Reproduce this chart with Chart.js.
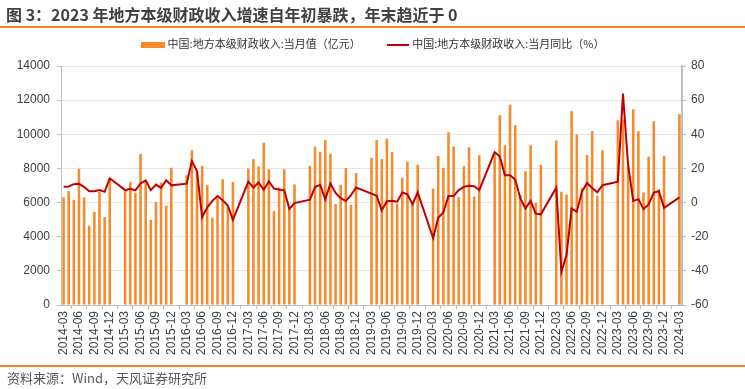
<!DOCTYPE html>
<html>
<head>
<meta charset="utf-8">
<script src="https://cdn.jsdelivr.net/npm/chart.js@4.4.1/dist/chart.umd.min.js"></script>
<style>
  html, body { margin: 0; padding: 0; background: #fff; }
  #wrap { position: relative; width: 745px; height: 389px; overflow: hidden; font-family: "Noto Sans CJK SC", sans-serif; }
  #chart { position: absolute; left: 0; top: 0; }
  #title { position: absolute; left: 6px; top: 2px; font-size: 16px; font-weight: bold; color: #404040; white-space: nowrap; }
  .rule { position: absolute; left: 0; width: 745px; height: 2px; background: #F0852D; }
  #legend { position: absolute; left: 0; top: 35px; width: 745px; text-align: center; font-size: 11px; color: #333; white-space: nowrap; }
  #legend span.item { display: inline-block; margin: 0 12px; }
  #legend i { display: inline-block; vertical-align: middle; margin-right: 3px; }
  #source { position: absolute; left: 7px; top: 368px; font-size: 13px; color: #595959; white-space: nowrap; }
</style>
</head>
<body>
<div id="wrap">
  <canvas id="chart" width="745" height="389"></canvas>
  <div id="title">图 3：2023 年地方本级财政收入增速自年初暴跌，年末趋近于 0</div>
  <div class="rule" style="top:26px"></div>
  <div id="legend">
    <span class="item"><i style="width:24px;height:6px;background:#F58B2C"></i>中国:地方本级财政收入:当月值（亿元）</span>
    <span class="item"><i style="width:22px;height:2px;background:#C00000"></i>中国:地方本级财政收入:当月同比（%）</span>
  </div>
  <div class="rule" style="top:365px"></div>
  <div id="source">资料来源：Wind，天风证券研究所</div>
</div>
<script>
// monthly categories 2014-03 .. 2024-03 (Jan/Feb have no monthly figure)
const months = [];
for (let y = 2014; y <= 2024; y++) {
    for (let m = 1; m <= 12; m++) {
        if (y === 2014 && m < 3) continue;
        if (y === 2024 && m > 3) break;
        months.push(y + "-" + String(m).padStart(2, "0"));
    }
}

// 当月值（亿元）
const monthValue = [
    6300, 6670, 6160, 7975, 6300, 4640, 5460, 6630, 5150, 7400,                 // 2014
    null, null, 6730, 7200, 6570, 8850, 7270, 4990, 6030, 7180, 5810, 8050,     // 2015
    null, null, 7605, 9068, 7790, 8150, 7020, 5110, 6260, 7370, 5750, 7210,     // 2016
    null, null, 8000, 8546, 8117, 9500, 7960, 5504, 6880, 7960, 5620, 7064,     // 2017
    null, null, 8156, 9268, 8975, 9658, 8858, 5913, 7044, 8020, 5855, 7727,     // 2018
    null, null, 8624, 9658, 8546, 9736, 8955, 5933, 7454, 8390, 5855, 8215,     // 2019
    null, null, 6825, 8736, 8034, 10121, 9282, 6318, 8132, 9243, 6357, 8775,    // 2020
    null, null, 8820, 11115, 9360, 11740, 10530, 6470, 7840, 9360, 5987, 8210,  // 2021
    null, null, 9640, 6634, 6470, 11356, 9990, 6868, 8790, 10185, 6380, 9070,   // 2022
    null, null, 10823, 10862, 8100, 11466, 10180, 6591, 8690, 10770, 6790, 8740, // 2023
    null, null, 11174                                                           // 2024
];

// 当月同比（%）
const yoyValue = [
    9.2, 9.4, 10.8, 11, 9.2, 6.6, 6.6, 7.4, 6.3, 14.2,
    null, null, 7.3, 8.1, 7.2, 11.2, 13, 7.3, 10.5, 8.6, 13.1, 10.1,
    null, null, 11.1, 24.3, 18.5, -8.6, -2.8, 1, 3.8, 1.4, -1.7, -10.1,
    null, null, 12.3, 8.8, 11.7, 7.5, 12.5, 8.2, 7.7, 7.2, -3.7, -0.3,
    null, null, 1.7, 9.1, 10.4, 1.9, 11.1, 5.6, 2.6, 0.9, 4.3, 8.8,
    null, null, 5.2, 4, -4.5, 0.8, 1, 0.5, 5.9, 4.8, -1.1, 6,
    null, null, -20.8, -8.9, -5.8, 3.9, 3.9, 7.3, 9.2, 9.8, 9.6, 7.3,
    null, null, 29.5, 27, 16, 16, 13.5, 2.4, -3.5, 1, -6.5, -6.9,
    null, null, 8.7, -40.7, -30.8, -3.5, -5.4, 6.3, 11.5, 8.5, 6, 10.2,
    null, null, 12.2, 63.8, 22, 1, 2, -3.9, -1.1, 5.9, 6.6, -3.1,
    null, null, 3
];

const tickFont = {family: "Liberation Sans", size: 12};
const axisColor = "#bfbfbf";

new Chart(document.getElementById("chart"), {
    type: "bar",
    data: {
        labels: months,
        datasets: [
            {
                type: "line",
                label: "中国:地方本级财政收入:当月同比（%）",
                data: yoyValue,
                yAxisID: "y1",
                borderColor: "#C00000",
                borderWidth: 2,
                pointRadius: 0,
                spanGaps: true,
                tension: 0,
                order: 0,
            },
            {
                type: "bar",
                label: "中国:地方本级财政收入:当月值（亿元）",
                data: monthValue,
                yAxisID: "y",
                backgroundColor: "#F58B2C",
                barPercentage: 0.5,
                categoryPercentage: 1,
                order: 1,
            },
        ]
    },
    options: {
        responsive: false,
        animation: false,
        layout: {padding: {top: 66, left: 0, right: 0, bottom: 0}},
        plugins: {
            legend: {display: false},
            tooltip: {enabled: false},
        },
        scales: {
            x: {
                offset: true,
                grid: {offset: true, drawOnChartArea: false, tickLength: 4, color: axisColor},
                border: {color: axisColor},
                ticks: {
                    autoSkip: false,
                    minRotation: 90,
                    maxRotation: 90,
                    padding: 2,
                    color: "#404040",
                    font: tickFont,
                    callback: function (v) {
                        const l = this.getLabelForValue(v);
                        return /-(03|06|09|12)$/.test(l) ? l : null;
                    },
                },
                afterFit: (s) => { s.height = 84; },
            },
            y: {
                position: "left",
                min: 0,
                max: 14000,
                ticks: {stepSize: 2000, padding: 7, color: "#404040", font: tickFont, callback: (v) => String(v)},
                grid: {color: "#e6e6e6", tickColor: axisColor, tickLength: 4},
                border: {color: axisColor},
                afterFit: (s) => { s.width = 61; },
            },
            y1: {
                position: "right",
                min: -60,
                max: 80,
                ticks: {stepSize: 20, padding: 5, color: "#404040", font: tickFont, callback: (v) => String(v)},
                grid: {drawOnChartArea: false, tickLength: 4, color: axisColor},
                border: {color: axisColor, width: 2},
                afterFit: (s) => { s.width = 63; },
            },
        }
    }
});
</script>
</body>
</html>
